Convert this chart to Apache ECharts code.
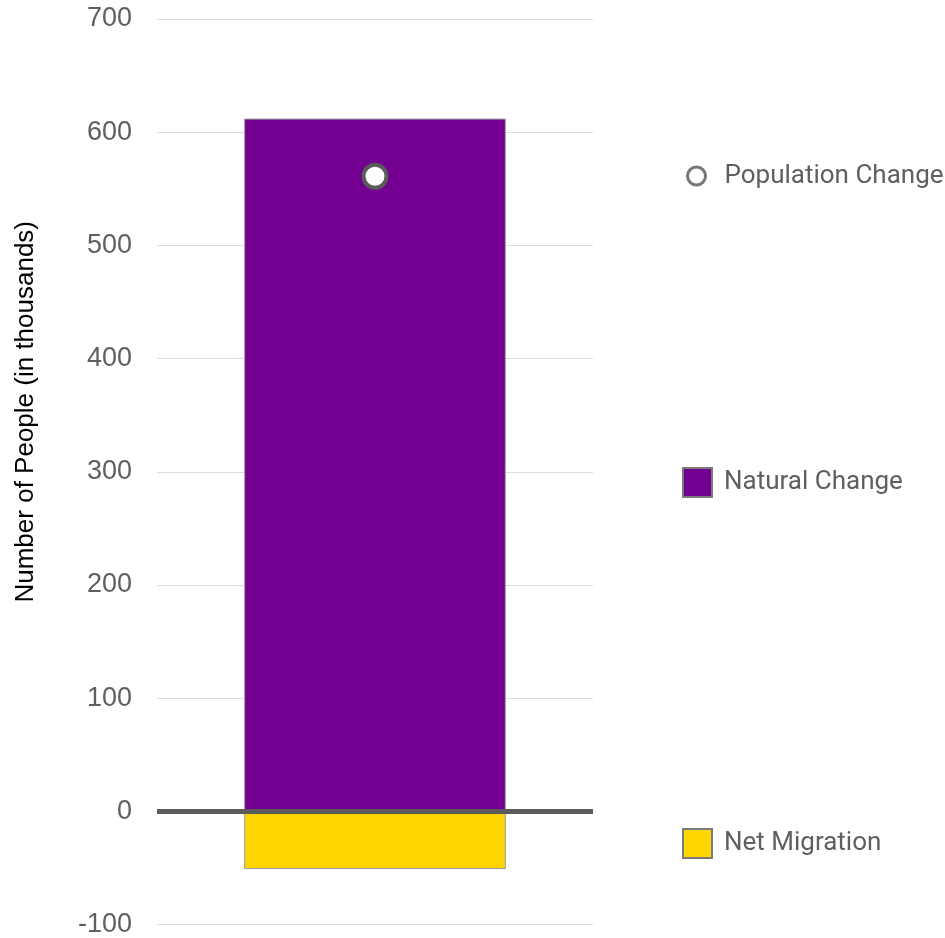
<!DOCTYPE html>
<html>
<head>
<meta charset="utf-8">
<script src="https://cdn.jsdelivr.net/npm/echarts@6/dist/echarts.min.js"></script>
<style>
html,body{margin:0;padding:0;background:#fff;}
#chart{width:945px;height:938px;}
</style>
</head>
<body>
<div id="chart"></div>
<script>
const categories = ['2020'];
const naturalChange = [612];
const netMigration = [-51];
const populationChange = [561];
const yTicks = [-100, 0, 100, 200, 300, 400, 500, 600, 700];
const yTitle = 'Number of People (in thousands)';

const chart = echarts.init(document.getElementById('chart'));
const legendText = { fontFamily: 'Roboto', fontSize: 26, color: '#5f5f5f' };
chart.setOption({
  animation: false,
  grid: { left: 157, right: 352, top: 19, bottom: 12 },
  legend: [
    {
      data: ['Population Change'], left: 686, top: 163, padding: 0, itemWidth: 18, itemHeight: 18,
      itemStyle: { borderWidth: 3, borderColor: '#777', color: '#fff' },
      textStyle: Object.assign({ padding: [0, 0, 0, 14] }, legendText)
    },
    {
      data: ['Natural Change'], left: 682, top: 467, padding: 0, itemWidth: 29, itemHeight: 29, icon: 'rect',
      itemStyle: { borderWidth: 2, borderColor: '#7a7a7a' },
      textStyle: Object.assign({ padding: [0, 0, 0, 7] }, legendText)
    },
    {
      data: ['Net Migration'], left: 682, top: 828, padding: 0, itemWidth: 29, itemHeight: 29, icon: 'rect',
      itemStyle: { borderWidth: 2, borderColor: '#7a7a7a' },
      textStyle: Object.assign({ padding: [0, 0, 0, 7] }, legendText)
    }
  ],
  xAxis: {
    type: 'category', data: categories, z: 5,
    axisLine: { onZero: true, lineStyle: { color: '#5b5b5b', width: 5, cap: 'butt' } },
    axisTick: { show: false }, axisLabel: { show: false }
  },
  yAxis: {
    type: 'value', min: yTicks[0], max: yTicks[yTicks.length - 1], interval: 100,
    name: yTitle, nameLocation: 'middle', nameGap: 118,
    nameTextStyle: { fontFamily: 'Liberation Sans', fontSize: 26, color: '#000', padding: [0, 0, 0, 120] },
    axisLine: { show: false }, axisTick: { show: false },
    axisLabel: { fontFamily: 'Liberation Sans', fontSize: 27, color: '#5f5f5f', margin: 25, padding: [3, 0, 0, 0] },
    splitLine: { lineStyle: { color: '#dcdcdc', width: 1 } }
  },
  series: [
    {
      name: 'Natural Change', type: 'bar', stack: 'a', data: naturalChange, barWidth: '60%',
      itemStyle: { color: '#730090', borderColor: '#999', borderWidth: 1 }
    },
    {
      name: 'Net Migration', type: 'bar', stack: 'a', data: netMigration, barWidth: '60%',
      itemStyle: { color: '#FFD600', borderColor: '#999', borderWidth: 1 }
    },
    {
      name: 'Population Change', type: 'scatter', data: populationChange, symbolSize: 23, z: 10,
      itemStyle: { color: '#fff', borderColor: '#5b5b5b', borderWidth: 4, opacity: 1 }
    }
  ]
});
</script>
</body>
</html>
